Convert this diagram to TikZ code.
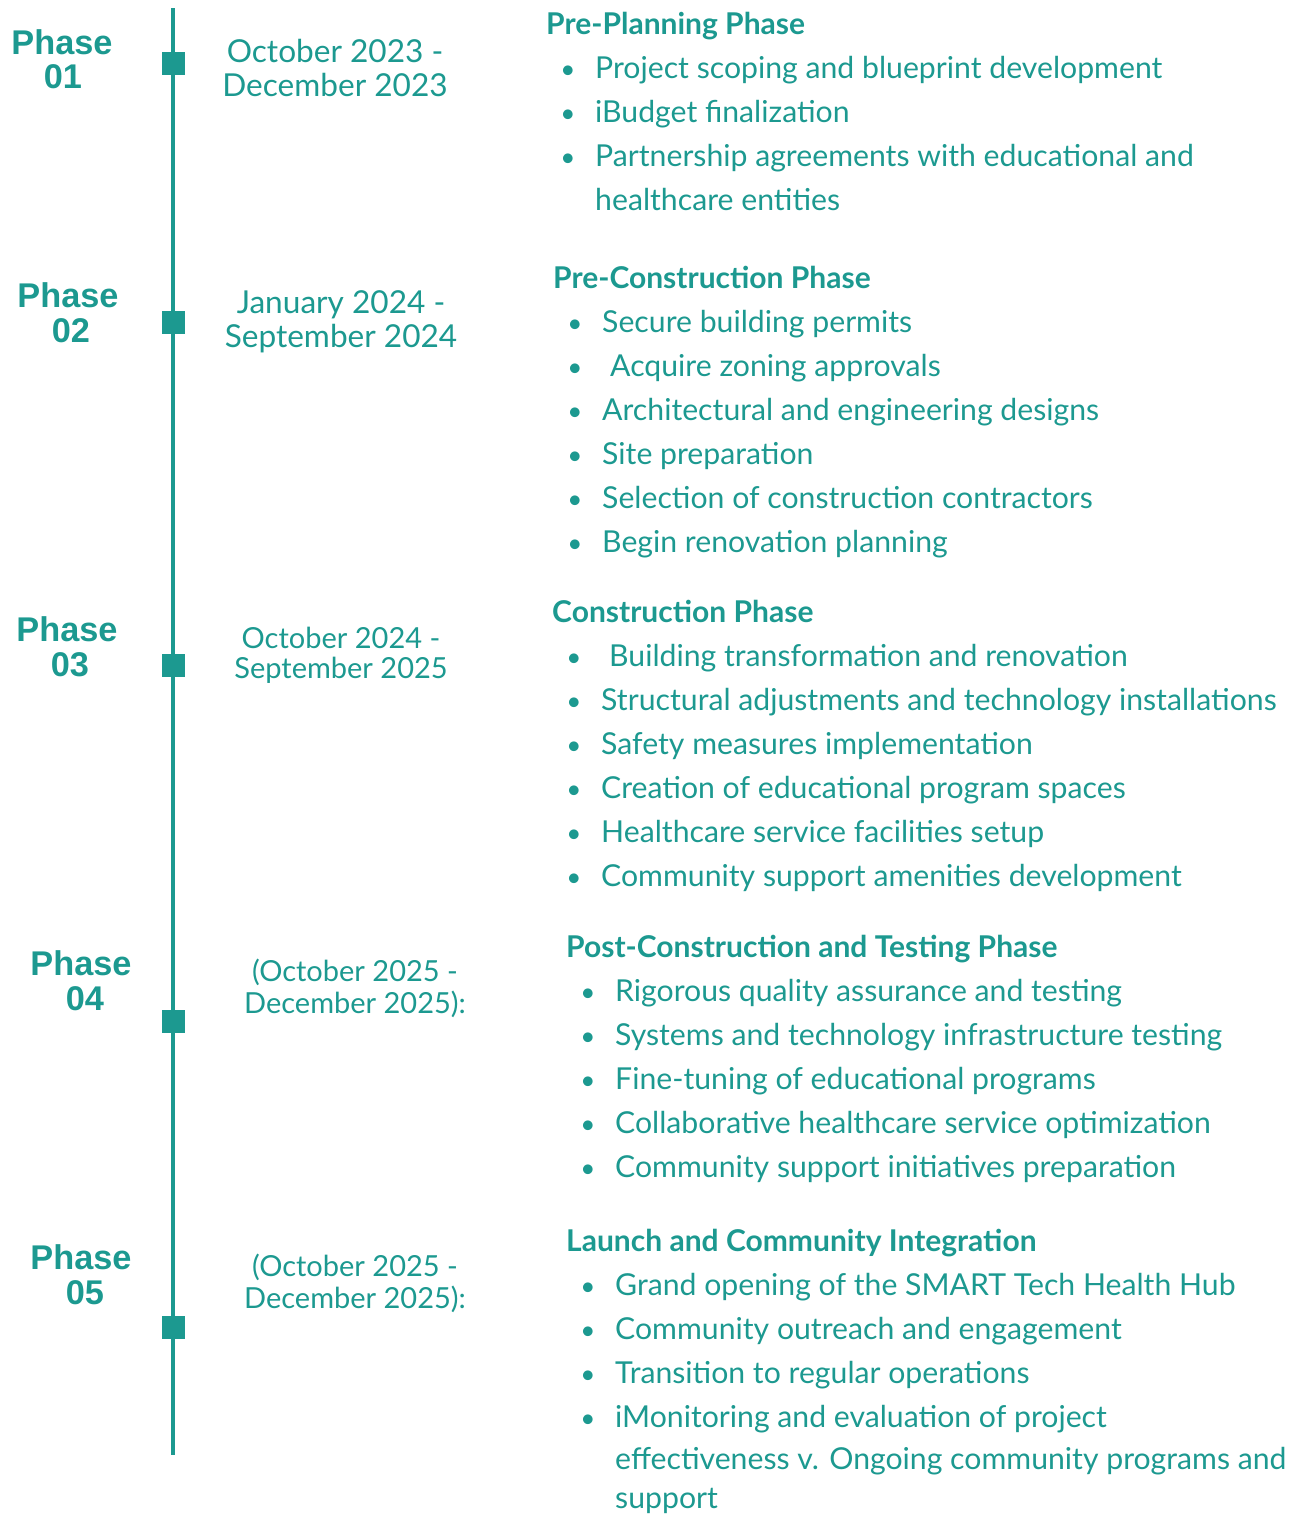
\documentclass[tikz,border=0pt]{standalone}
\usepackage{fontspec}
\setmainfont{Lato}
\newfontfamily\phasefont{Liberation Sans}
\definecolor{teal1}{RGB}{28,153,144}
\tikzset{
  phasetxt/.style={text=teal1, font=\phasefont\bfseries\fontsize{34.3}{36}\selectfont, inner sep=0pt, align=center},
  datebig/.style={text=teal1, font=\fontsize{31.6}{34}\selectfont, inner sep=0pt},
  datesmall/.style={text=teal1, font=\fontsize{29}{32}\selectfont, inner sep=0pt},
  head/.style={text=teal1, font=\bfseries\fontsize{30}{32}\selectfont, inner sep=0pt, anchor=mid west, yshift=-8.5pt},
  item/.style={text=teal1, font=\fontsize{30.2}{32}\selectfont, inner sep=0pt, anchor=mid west, yshift=-8.5pt},
  bul/.style={text=teal1, font=\fontsize{26}{32}\selectfont, inner sep=0pt, anchor=mid, yshift=-8.5pt},
  marker/.style={fill=teal1, minimum width=23pt, minimum height=23pt, inner sep=0pt, draw=none},
}
\begin{document}
\begin{tikzpicture}[x=1pt,y=-1pt]
\useasboundingbox (0,0) rectangle (1296,1518);
% timeline
\coordinate (top) at (173,8);
\coordinate (bot) at (173,1455);
\draw[teal1, line width=4pt] (top) -- (bot);
\node[marker] (m1) at (173,63) {};
\node[marker] (m2) at (173,322) {};
\node[marker] (m3) at (173,665) {};
\node[marker] (m4) at (173,1021) {};
\node[marker] (m5) at (173,1327) {};
% phase labels
\node[phasetxt] (p1a) at (62,42) {Phase};
\node[phasetxt] (p1b) at (63,77) {01};
\node[phasetxt] (p2a) at (68,295) {Phase};
\node[phasetxt] (p2b) at (71,331) {02};
\node[phasetxt] (p3a) at (67,629) {Phase};
\node[phasetxt] (p3b) at (70,665) {03};
\node[phasetxt] (p4a) at (81,963) {Phase};
\node[phasetxt] (p4b) at (85,999) {04};
\node[phasetxt] (p5a) at (81,1257) {Phase};
\node[phasetxt] (p5b) at (85,1293) {05};
% dates
\node[datebig] (d1a) at (335,51) {October 2023 -};
\node[datebig] (d1b) at (335,85) {December 2023};
\node[datebig] (d2a) at (341,305) {January 2024 -};
\node[datebig] (d2b) at (341,339) {September 2024};
\node[datesmall] (d3a) at (341,638) {October 2024 -};
\node[datesmall] (d3b) at (341,670) {September 2025};
\node[datesmall] (d4a) at (355,972) {(October 2025 -};
\node[datesmall] (d4b) at (355,1004) {December 2025):};
\node[datesmall] (d5a) at (355,1267) {(October 2025 -};
\node[datesmall] (d5b) at (355,1299) {December 2025):};
% phase 1
\node[head] (h1) at (546,23) {Pre-Planning Phase};
\foreach \y/\n in {67/1,111/2,155/3}{\node[bul] (b1\n) at (568,\y) {•};}
\node[item] (t11) at (595,67) {Project scoping and blueprint development};
\node[item] (t12) at (595,111) {iBudget finalization};
\node[item] (t13) at (595,155) {Partnership agreements with educational and};
\node[item] (t13b) at (595,199) {healthcare entities};
% phase 2
\node[head] (h2) at (553,277) {Pre-Construction Phase};
\foreach \y/\n in {321/1,365/2,409/3,453/4,497/5,541/6}{\node[bul] (b2\n) at (575,\y) {•};}
\node[item] (t21) at (602,321) {Secure building permits};
\node[item] (t22) at (610,365) {Acquire zoning approvals};
\node[item] (t23) at (602,409) {Architectural and engineering designs};
\node[item] (t24) at (602,453) {Site preparation};
\node[item] (t25) at (602,497) {Selection of construction contractors};
\node[item] (t26) at (602,541) {Begin renovation planning};
% phase 3
\node[head] (h3) at (552,611) {Construction Phase};
\foreach \y/\n in {655/1,699/2,743/3,787/4,831/5,875/6}{\node[bul] (b3\n) at (574,\y) {•};}
\node[item] (t31) at (609,655) {Building transformation and renovation};
\node[item] (t32) at (601,699) {Structural adjustments and technology installations};
\node[item] (t33) at (601,743) {Safety measures implementation};
\node[item] (t34) at (601,787) {Creation of educational program spaces};
\node[item] (t35) at (601,831) {Healthcare service facilities setup};
\node[item] (t36) at (601,875) {Community support amenities development};
% phase 4
\node[head] (h4) at (566,946) {Post-Construction and Testing Phase};
\foreach \y/\n in {990/1,1034/2,1078/3,1122/4,1166/5}{\node[bul] (b4\n) at (588,\y) {•};}
\node[item] (t41) at (615,990) {Rigorous quality assurance and testing};
\node[item] (t42) at (615,1034) {Systems and technology infrastructure testing};
\node[item] (t43) at (615,1078) {Fine-tuning of educational programs};
\node[item] (t44) at (615,1122) {Collaborative healthcare service optimization};
\node[item] (t45) at (615,1166) {Community support initiatives preparation};
% phase 5
\node[head] (h5) at (566,1240) {Launch and Community Integration};
\foreach \y/\n in {1284/1,1328/2,1372/3,1416/4}{\node[bul] (b5\n) at (588,\y) {•};}
\node[item] (t51) at (615,1284) {Grand opening of the SMART Tech Health Hub};
\node[item] (t52) at (615,1328) {Community outreach and engagement};
\node[item] (t53) at (615,1372) {Transition to regular operations};
\node[item] (t54) at (615,1416) {iMonitoring and evaluation of project};
\node[item] (t54b) at (615,1458) {effectiveness v. Ongoing community programs and};
\node[item] (t54c) at (615,1497) {support};
\end{tikzpicture}
\end{document}
